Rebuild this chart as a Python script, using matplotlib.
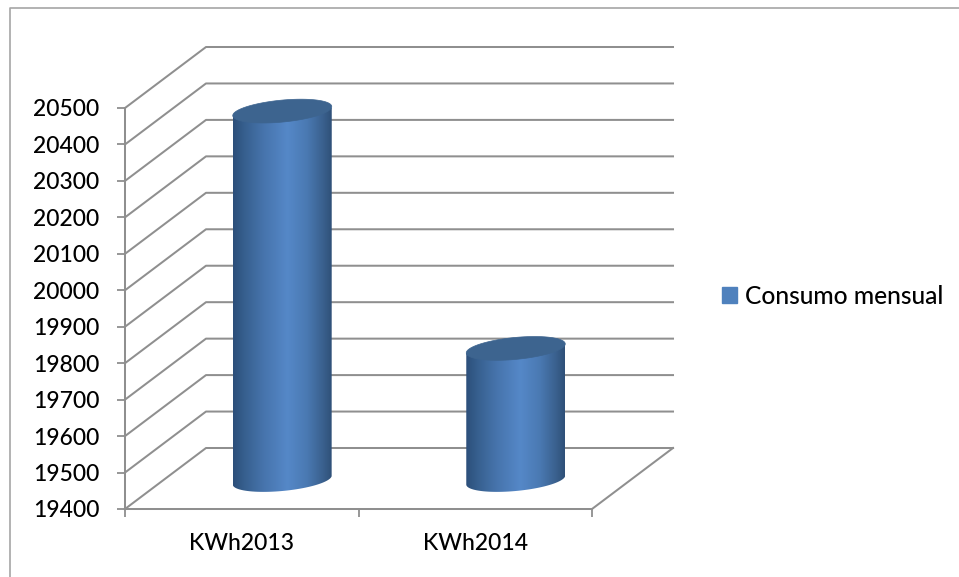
import numpy as np
import matplotlib
matplotlib.use("Agg")
import matplotlib.pyplot as plt
from matplotlib.colors import LinearSegmentedColormap
from matplotlib.lines import Line2D
from matplotlib.patches import Patch, Polygon

# =========================
# DATA
# =========================
categories = ["KWh2013", "KWh2014"]
consumo = [20412, 19761]
y_ticks = [19400, 19500, 19600, 19700, 19800, 19900, 20000,
           20100, 20200, 20300, 20400, 20500]
serie = "Consumo mensual"

# =========================
# STYLE
# =========================
W, H = 959, 577
plt.rcParams["font.family"] = ["Lato", "DejaVu Sans"]
plt.rcParams["font.weight"] = 500

GRID = "#8f8f8f"
side_cmap = LinearSegmentedColormap.from_list("cyl", [
    (0.00, "#2c4f7a"), (0.12, "#37608f"), (0.30, "#4673ab"),
    (0.55, "#5588c8"), (0.75, "#4a79b2"), (0.92, "#395f8c"), (1.00, "#2f5078"),
])

fig = plt.figure(figsize=(W / 100, H / 100), dpi=100)
ax = fig.add_axes([125 / W, 1 - 509 / H, (592 - 125) / W, (509 - 108) / H])
ax.set_xlim(0, 2)
ax.set_ylim(min(y_ticks), max(y_ticks))

# px <-> data, the 3D depth is a plain oblique shift
px_x = (592 - 125) / 2
px_y = (509 - 108) / (max(y_ticks) - min(y_ticks))
depth_x = 81 / px_x
depth_y = 61 / px_y

# chart frame
fig.add_artist(Line2D([10 / W, 10 / W, 1], [0, 1 - 8 / H, 1 - 8 / H], color="#a6a6a6", lw=1.2))

# walls
for v in y_ticks:
    ax.plot([0, depth_x, 2 + depth_x], [v, v + depth_y, v + depth_y],
            color=GRID, lw=1.45, clip_on=False, zorder=1)
ax.plot([2, 2 + depth_x], [y_ticks[0], y_ticks[0] + depth_y], color=GRID, lw=1.45, clip_on=False, zorder=1)


def ellipse(cx, cy, n=100):
    t = np.linspace(0, 2 * np.pi, n)
    x = cx + 49.5 / px_x * np.cos(t)
    y = cy + (11 * np.sin(t) + 4.5 * np.cos(t)) / px_y
    return x, y


# cylinders stand in the middle of the floor depth
for i, val in enumerate(consumo):
    cx = i + 0.5 + depth_x / 2
    shift = depth_y / 2 - 1.5 / px_y
    base = y_ticks[0] + shift
    top = val + shift
    bx, by = ellipse(cx, base)
    tx, ty = ellipse(cx, top)
    low = by < base + 4.5 / px_y * np.cos(np.linspace(0, 2 * np.pi, 100))
    order = np.argsort(bx[low])
    left, right = bx.min(), bx.max()
    outline = np.vstack([
        np.c_[bx[low][order], by[low][order]],
        [[right, top + 4.5 / px_y]],
        [[left, top - 4.5 / px_y]],
    ])
    side = Polygon(outline, closed=True, fc="none", ec="none", transform=ax.transData)
    ax.add_patch(side)
    img = ax.imshow(np.linspace(0, 1, 256)[None, :], cmap=side_cmap, aspect="auto",
                    extent=[left, right, y_ticks[0], max(y_ticks) + depth_y], zorder=3)
    img.set_clip_path(side)
    ax.add_patch(Polygon(np.c_[tx, ty], closed=True, fc="#3d648f", ec="#3d648f", lw=0.5, zorder=4, clip_on=False))

ax.set_xlim(0, 2)
ax.set_ylim(min(y_ticks), max(y_ticks))

# axes
for s in ["top", "right"]:
    ax.spines[s].set_visible(False)
for s in ["left", "bottom"]:
    ax.spines[s].set_color(GRID)
    ax.spines[s].set_linewidth(1.45)
ax.patch.set_visible(False)
ax.set_yticks(y_ticks)
ax.tick_params(axis="y", length=5.8, width=1.3, color=GRID, labelsize=16.5, pad=12.7)
ax.set_xticks([0, 1, 2])
ax.set_xticklabels([])
ax.set_xticks([0.5, 1.5], minor=True)
ax.set_xticklabels(categories, minor=True)
ax.tick_params(axis="x", which="major", length=5.8, width=1.3, color=GRID)
ax.tick_params(axis="x", which="minor", length=0, labelsize=16.5, pad=17)

fig.legend(handles=[Patch(color="#4f81bd", label=serie)],
           loc="center left", bbox_to_anchor=(699.5 / W, 1 - 296 / H), frameon=False,
           fontsize=17.75, handlelength=0.61, handleheight=0.61, handletextpad=0.33)

fig.savefig("out.png", dpi=100)
